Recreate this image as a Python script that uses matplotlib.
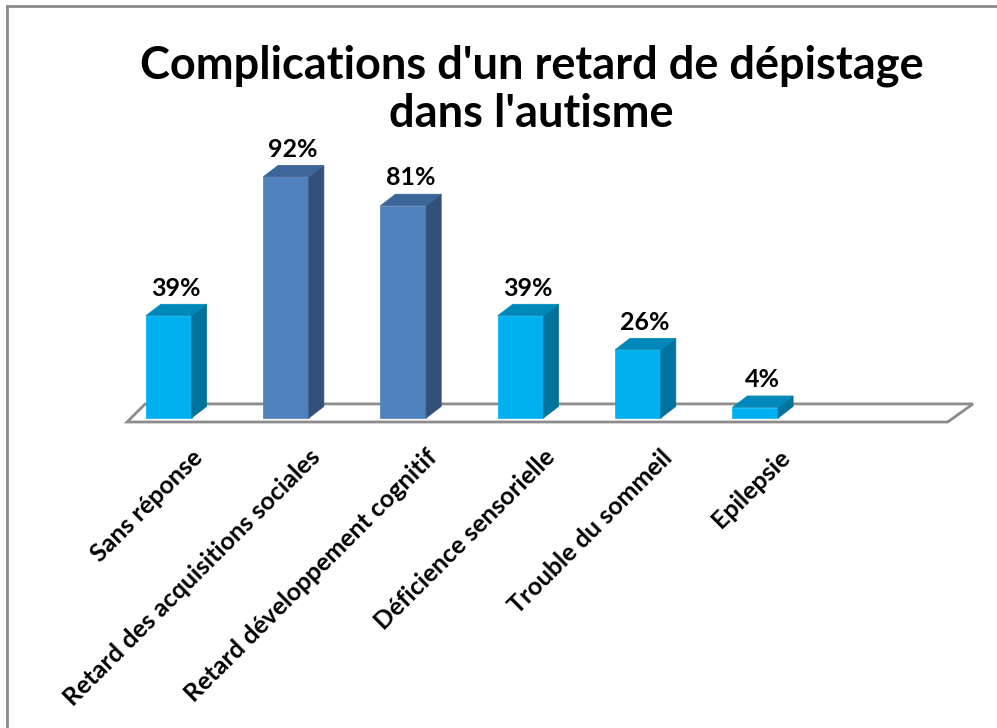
import matplotlib
matplotlib.use("Agg")
import matplotlib.pyplot as plt
from matplotlib.patches import Polygon
from matplotlib.lines import Line2D

plt.rcParams['font.family'] = ['Lato', 'DejaVu Sans']

categories = ["Sans réponse", "Retard des acquisitions sociales",
              "Retard développement cognitif", "Déficience sensorielle",
              "Trouble du sommeil", "Epilepsie"]
values = [39, 92, 81, 39, 26, 4]
value_labels = ["39%", "92%", "81%", "39%", "26%", "4%"]
title_lines = ["Complications d'un retard de dépistage", "dans l'autisme"]

# colours: (front, side, top)
light = ("#00B0F0", "#00729C", "#0088BA")
dark = ("#4F81BD", "#32507A", "#3C659A")
bar_colors = [light, dark, dark, light, light, light]

BAR_W = 0.39
DX, DY = 0.128, 4.4   # depth offset of the bars
FDX, FDY = 0.155, 6.9  # depth of the floor

fig = plt.figure(figsize=(9.97, 7.28), dpi=100)
ax = fig.add_axes([0, 0, 1, 1])
ax.set_xlim(-1.438, 7.061)
ax.set_ylim(-118.3, 159.5)
ax.axis("off")

# floor
fx0, fx1, fy = -0.355, 6.64, -1.53
floor = Polygon([(fx0, fy), (fx1, fy), (fx1 + FDX * 1.4, fy + FDY),
                 (fx0 + FDX, fy + FDY)], closed=True,
                facecolor="white", edgecolor="#8C8C8C", linewidth=2, zorder=1)
ax.add_patch(floor)

for i, (v, cols) in enumerate(zip(values, bar_colors)):
    x0, x1 = i - BAR_W / 2, i + BAR_W / 2
    front, side, top = cols
    ax.bar(i, v, width=BAR_W, bottom=0, color=front, zorder=3,
           edgecolor=front, linewidth=0.5)
    ax.add_patch(Polygon([(x1, 0), (x1 + DX, DY), (x1 + DX, v + DY), (x1, v)],
                         closed=True, facecolor=side, edgecolor=side,
                         linewidth=0.5, zorder=3))
    ax.add_patch(Polygon([(x0, v), (x1, v), (x1 + DX, v + DY), (x0 + DX, v + DY)],
                         closed=True, facecolor=top, edgecolor=top,
                         linewidth=0.5, zorder=3))
    ax.text(i + 0.06, v + 10.6, value_labels[i], ha="center", va="center",
            fontsize=18, fontweight="bold", color="black", zorder=4)
    ax.text(i + 0.19, -10.5, categories[i], ha="right", va="top", rotation=45,
            rotation_mode="anchor", fontsize=18, fontweight="bold", color="black")

# title, one text per line
fig.text(0.533, 1 - 66 / 728, title_lines[0], ha="center", va="center",
         fontsize=32.5, fontweight="bold")
fig.text(0.533, 1 - 114 / 728, title_lines[1], ha="center", va="center",
         fontsize=32.5, fontweight="bold")

# chart frame (top and left edges only visible)
fig.add_artist(Line2D([7 / 997, 7 / 997], [0, 1 - 6 / 728], color="#8C8C8C",
                      linewidth=2, transform=fig.transFigure))
fig.add_artist(Line2D([7 / 997, 1], [1 - 6 / 728, 1 - 6 / 728], color="#8C8C8C",
                      linewidth=2, transform=fig.transFigure))

fig.savefig("out.png", dpi=100)
